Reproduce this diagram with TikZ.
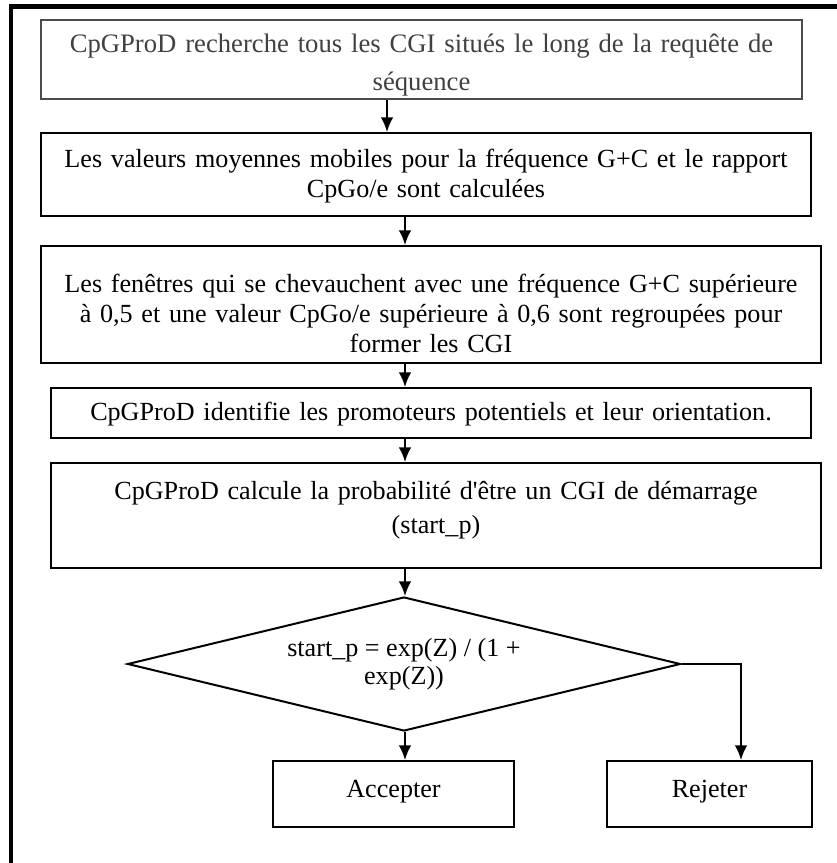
\documentclass[tikz,border=0pt]{standalone}
\usepackage{fontspec}
\setmainfont{Liberation Serif}
\usetikzlibrary{arrows.meta,shapes.geometric}
\tikzset{signal/.style={%
  ->,
  line width=1.5pt,
  >={Latex[length=11pt,width=9.5pt]},
  }
}
\tikzset{block/.style={%
  draw,
  line width=1.5pt,
  inner sep=0pt,
  align=center,
  anchor=center,
  font=\fontsize{19.6}{22.5}\selectfont,
  }
}
\tikzset{decision/.style={%
  block,
  shape=diamond,
  aspect=4.1,
  font=\fontsize{19.6}{21}\selectfont,
  }
}

\begin{document}
\begin{tikzpicture}[x=0.75pt,y=-0.75pt]
  \useasboundingbox (0,0) rectangle (837,863);
  \draw [line width=3.5pt] (11,863) -- (11,6.5) -- (837,6.5);

  \node (search) [block, draw=black!70, text=black!75, text width=570.75pt,
    text height=24.75pt, text depth=34.5pt,
    font=\fontsize{20}{28.5}\selectfont] at (421.5,59.5)
    {CpGProD recherche tous les CGI situés le long de la requête de\\séquence};

  \node (average) [block, text width=577.5pt, text height=25.5pt, text depth=36.75pt] at (426,174.5)
    {Les valeurs moyennes mobiles pour la fréquence G+C et le rapport\\CpGo/e sont calculées};

  \node (windows) [block, text width=585pt, text height=34.5pt, text depth=53.25pt] at (431,304.5)
    {Les fenêtres qui se chevauchent avec une fréquence G+C supérieure\\à 0,5 et une valeur CpGo/e supérieure à 0,6 sont regroupées pour\\former les CGI};

  \node (promoters) [block, text width=570pt, text height=24pt, text depth=13.5pt] at (431,413)
    {CpGProD identifie les promoteurs potentiels et leur orientation.};

  \node (probability) [block, text width=577.5pt, text height=27pt, text depth=51.75pt,
    font=\fontsize{19.6}{25.5}\selectfont] at (436,515.5)
    {CpGProD calcule la probabilité d\textquotesingle être un CGI de démarrage\\(start\_p)};

  \node (test) [decision, minimum width=414.75pt, minimum height=100.5pt] at (404,664)
    {start\_p = exp(Z) / (1 +\\exp(Z))};

  \node (accept) [block, text width=180.75pt, text height=27pt, text depth=22.5pt] at (393.5,794) {Accepter};
  \node (reject) [block, text width=153.75pt, text height=27pt, text depth=22.5pt] at (709.5,794) {Rejeter};

  \coordinate (left spine) at (387,0);
  \coordinate (spine) at (405,0);
  \coordinate (branch) at (741,0);

  \draw [signal] (search.south -| left spine) -- (average.north -| left spine);
  \draw [signal] (average.south -| spine) -- (windows.north -| spine);
  \draw [signal] (windows.south -| spine) -- (promoters.north -| spine);
  \draw [signal] (promoters.south -| spine) -- (probability.north -| spine);
  \draw [signal] (probability.south -| spine) -- (test.north -| spine);
  \draw [signal] (test.south -| spine) -- (accept.north -| spine);
  \draw [signal] (test.east) -| (reject.north -| branch);
\end{tikzpicture}
\end{document}
